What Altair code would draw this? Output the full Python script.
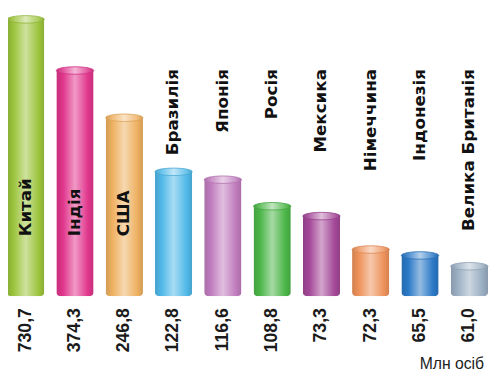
import altair as alt
import pandas as pd

# Data
countries = ["Китай", "Індія", "США", "Бразилія", "Японія", "Росія",
             "Мексика", "Німеччина", "Індонезія", "Велика Британія"]
values = [730.7, 374.3, 246.8, 122.8, 116.6, 108.8, 73.3, 72.3, 65.5, 61.0]
# illustrative bar heights as drawn (not proportional to values)
bar_heights = [285, 233, 185, 130, 122, 95, 85, 51, 45, 34]
unit_label = "Млн осіб"

# Styling
base_colors = ["#9cc43c", "#e0358c", "#eeb060", "#50b8e8", "#c07cbe",
               "#4cb648", "#a44898", "#ee925a", "#2a78c6", "#9aaec2"]


def mix(hex_color, other, t):
    h = hex_color.lstrip("#")
    o = other.lstrip("#")
    a = [int(h[i:i + 2], 16) for i in (0, 2, 4)]
    b = [int(o[i:i + 2], 16) for i in (0, 2, 4)]
    c = [round(a[i] * (1 - t) + b[i] * t) for i in range(3)]
    return "#" + "".join(f"{v:02x}" for v in c)


def grad_for(col, light):
    return alt.Gradient(
        gradient="linear", x1=0, x2=1, y1=0, y2=0,
        stops=[
            alt.GradientStop(color=mix(col, "#000000", 0.12), offset=0),
            alt.GradientStop(color=mix(col, "#ffffff", light), offset=0.18),
            alt.GradientStop(color=mix(col, "#ffffff", light + 0.5), offset=0.5),
            alt.GradientStop(color=mix(col, "#ffffff", light), offset=0.85),
            alt.GradientStop(color=mix(col, "#000000", 0.12), offset=1),
        ],
    )


df = pd.DataFrame({
    "country": countries,
    "value": values,
    "h": bar_heights,
})
df["label"] = [f"{v:.1f}".replace(".", ",") for v in values]
df["inside"] = [i < 3 for i in range(len(countries))]

W, H = 489, 367
first_c, last_c = 18, 469
step = (last_c - first_c) / 9
CAP = 3.5

x_enc = alt.X("country:N", sort=countries, axis=None,
              scale=alt.Scale(range=[first_c - step / 2, last_c + step / 2],
                              paddingInner=0, paddingOuter=0))
yscale = alt.Scale(domain=[0, 290], range=[290, 0], nice=False)
y_enc = alt.Y("hb:Q", axis=None, scale=yscale)

base = alt.Chart(df).transform_calculate(hb=f"datum.h - {CAP}")

ellipse = "M-1,0 A1,0.2 0 1,1 1,0 A1,0.2 0 1,1 -1,0 Z"

bar_layers = []
for name, col in zip(countries, base_colors):
    sub = base.transform_filter(alt.datum.country == name)
    bar_layers.append(
        sub.mark_bar(size=38, color=grad_for(col, 0.0),
                     cornerRadiusBottomLeft=4, cornerRadiusBottomRight=4)
        .encode(x=x_enc, y=y_enc)
    )
    bar_layers.append(
        sub.mark_point(shape=ellipse, size=38 * 38, filled=True,
                       fill=grad_for(col, 0.15), opacity=1,
                       stroke=mix(col, "#000000", 0.08), strokeWidth=0.8)
        .encode(x=x_enc, y=y_enc)
    )

values_text = base.mark_text(
    angle=270, align="right", baseline="middle", fontSize=18,
    font="Liberation Sans", fontWeight="bold", color="#1a1a1a"
).encode(x=x_enc, y=alt.value(302), text="label:N")

inside_text = base.transform_filter(alt.datum.inside == True).mark_text(
    angle=270, align="left", baseline="middle", fontSize=17,
    font="DejaVu Sans", fontWeight="bold", color="#111111"
).encode(x=x_enc, y=alt.value(229), text="country:N")

above_text = base.transform_filter(alt.datum.inside == False).mark_text(
    angle=270, align="right", baseline="middle", fontSize=17,
    font="DejaVu Sans", fontWeight="bold", color="#111111"
).encode(x=x_enc, y=alt.value(59), text="country:N")

unit_text = alt.Chart(pd.DataFrame({"t": [unit_label]})).mark_text(
    align="right", baseline="alphabetic", fontSize=16,
    font="Liberation Sans", color="#222222"
).encode(x=alt.value(484), y=alt.value(364), text="t:N")

chart = alt.layer(*bar_layers, values_text, inside_text, above_text, unit_text).properties(
    width=W, height=H, padding=0,
    autosize=alt.AutoSizeParams(type="none"),
    background="white",
).configure_view(stroke=None)

chart.save("out.html", embed_options={"renderer": "svg", "actions": False})
